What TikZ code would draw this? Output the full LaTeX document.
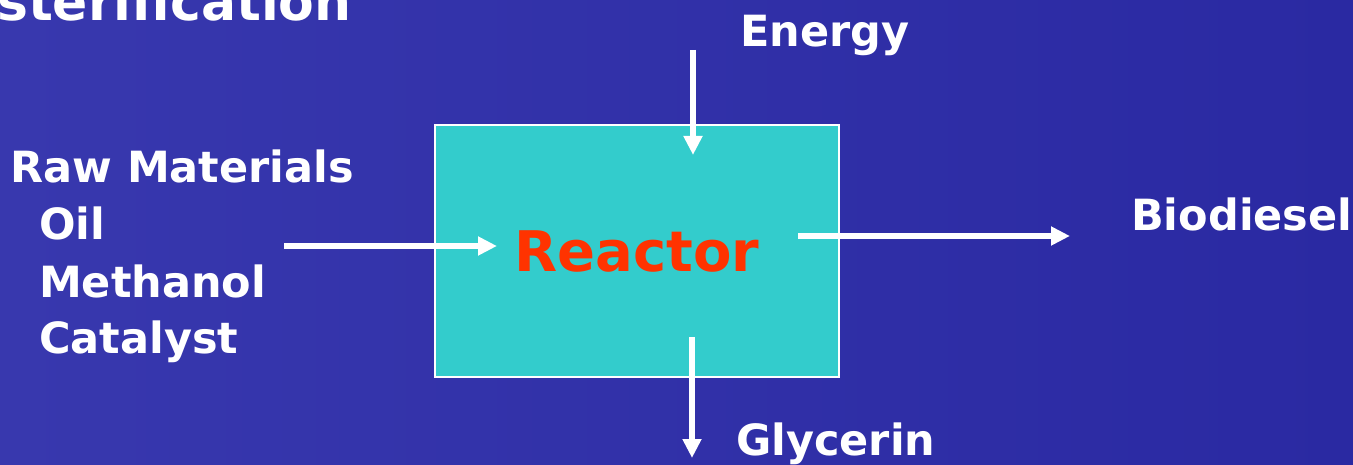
\documentclass[tikz,border=0pt]{standalone}
\usepackage{fontspec}
\setmainfont{DejaVu Sans}
\usetikzlibrary{arrows.meta}
\definecolor{bgleft}{HTML}{3838AE}
\definecolor{bgright}{HTML}{2A29A2}
\definecolor{boxfill}{HTML}{33CCCC}
\definecolor{reactred}{HTML}{FF3300}
\tikzset{
  lbl/.style={anchor=base west, inner sep=0pt, text=white, font=\bfseries\fontsize{43}{50}\selectfont},
  flow/.style={draw=white, line width=6pt, -{Triangle[width=18pt,length=19pt]}},
  reactorbox/.style={draw=white, line width=2pt, fill=boxfill, minimum width=404pt, minimum height=252pt, inner sep=0pt, text=reactred, font=\bfseries\fontsize{56}{64}\selectfont}
}
\begin{document}
\begin{tikzpicture}[x=1pt,y=-1pt]
\useasboundingbox (0,0) rectangle (1353,465);
\begin{scope}
\clip (0,0) rectangle (1353,465);
\shade[left color=bgleft, right color=bgright] (0,0) rectangle (1353,465);
\node[lbl, font=\bfseries\fontsize{52}{60}\selectfont] (title) at (-3,21) {sterification};
\end{scope}
\node[reactorbox] (reactor) at (637,251) {Reactor};
\node[lbl] (energy) at (740,47) {Energy};
\node[lbl] (raw) at (10,183) {Raw Materials};
\node[lbl] (oil) at (39,240) {Oil};
\node[lbl] (meth) at (39,298) {Methanol};
\node[lbl] (cat) at (39,353) {Catalyst};
\node[lbl] (bio) at (1131,231) {Biodiesel};
\node[lbl] (gly) at (736,455) {Glycerin};
\coordinate (eA) at (693,50);
\coordinate (eB) at (693,155);
\coordinate (iA) at (284,246);
\coordinate (iB) at (497,246);
\coordinate (bA) at (798,236);
\coordinate (bB) at (1070,236);
\coordinate (gA) at (692,337);
\coordinate (gB) at (692,458);
\draw[flow] (eA) -- (eB);
\draw[flow] (iA) -- (iB);
\draw[flow] (bA) -- (bB);
\draw[flow] (gA) -- (gB);
\end{tikzpicture}
\end{document}
